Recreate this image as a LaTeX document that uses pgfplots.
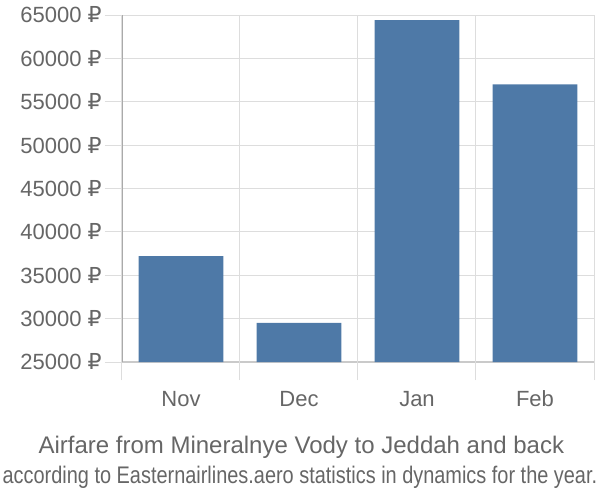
\documentclass[border=0pt]{standalone}
\usepackage{fontspec}
\setmainfont{Liberation Sans}
\newfontfamily\rub{DejaVu Sans}
\usepackage{pgfplots}
\pgfplotsset{compat=1.18}
\definecolor{barblue}{RGB}{78,121,167}
\definecolor{gridgray}{RGB}{221,221,221}
\definecolor{axisgray}{RGB}{170,170,170}
\definecolor{txtgray}{RGB}{102,102,102}
\newcommand{\R}{\ {\rub ₽}}
\begin{document}
\begin{tikzpicture}
\useasboundingbox (-91.5pt,-103.5pt) rectangle (358.5pt,271.5pt);
\begin{axis}[
    at={(0,0)}, anchor=south west,
    scale only axis,
    width=354pt, height=260.25pt,
    xmin=-0.5, xmax=3.5,
    ymin=25000, ymax=65000,
    scaled y ticks=false,
    axis y line*=left, axis x line*=bottom,
    y axis line style={axisgray, line width=1pt},
    x axis line style={gridgray!80!gray, line width=1pt},
    xtick={0,1,2,3},
    xticklabels={Nov,Dec,Jan,Feb},
    major x tick style={draw=none},
    extra x ticks={-0.5,0.5,1.5,2.5,3.5},
    extra x tick labels={},
    extra x tick style={grid=major, major tick length=13.5pt, tick align=outside,
        major x tick style={draw=gridgray, line width=0.75pt}},
    ytick={25000,30000,...,65000},
    yticklabels={25000\R,30000\R,35000\R,40000\R,45000\R,50000\R,55000\R,60000\R,65000\R},
    ymajorgrids,
    major grid style={gridgray, line width=0.75pt},
    major y tick style={gridgray, line width=0.75pt},
    ytick align=outside, major tick length=12.75pt,
    tick label style={font=\fontsize{16.5pt}{19pt}\selectfont, text=txtgray},
    yticklabel style={xshift=1pt},
    xticklabel style={yshift=-5pt, text height=12pt, text depth=3.5pt},
    ybar, bar width=0.72,
    clip=false,
]
\addplot[fill=barblue, draw=none] coordinates {(0,37200) (1,29500) (2,64400) (3,57000)};
\node[text=txtgray, font=\fontsize{18pt}{21pt}\selectfont] at (axis description cs:0.38,-0.245) {Airfare from Mineralnye Vody to Jeddah and back};
\node[text=txtgray, font=\fontsize{18pt}{21pt}\selectfont] at (axis description cs:0.377,-0.332) {\scalebox{0.83}[1]{according to Easternairlines.aero statistics in dynamics for the year.}};
\end{axis}
\end{tikzpicture}
\end{document}
